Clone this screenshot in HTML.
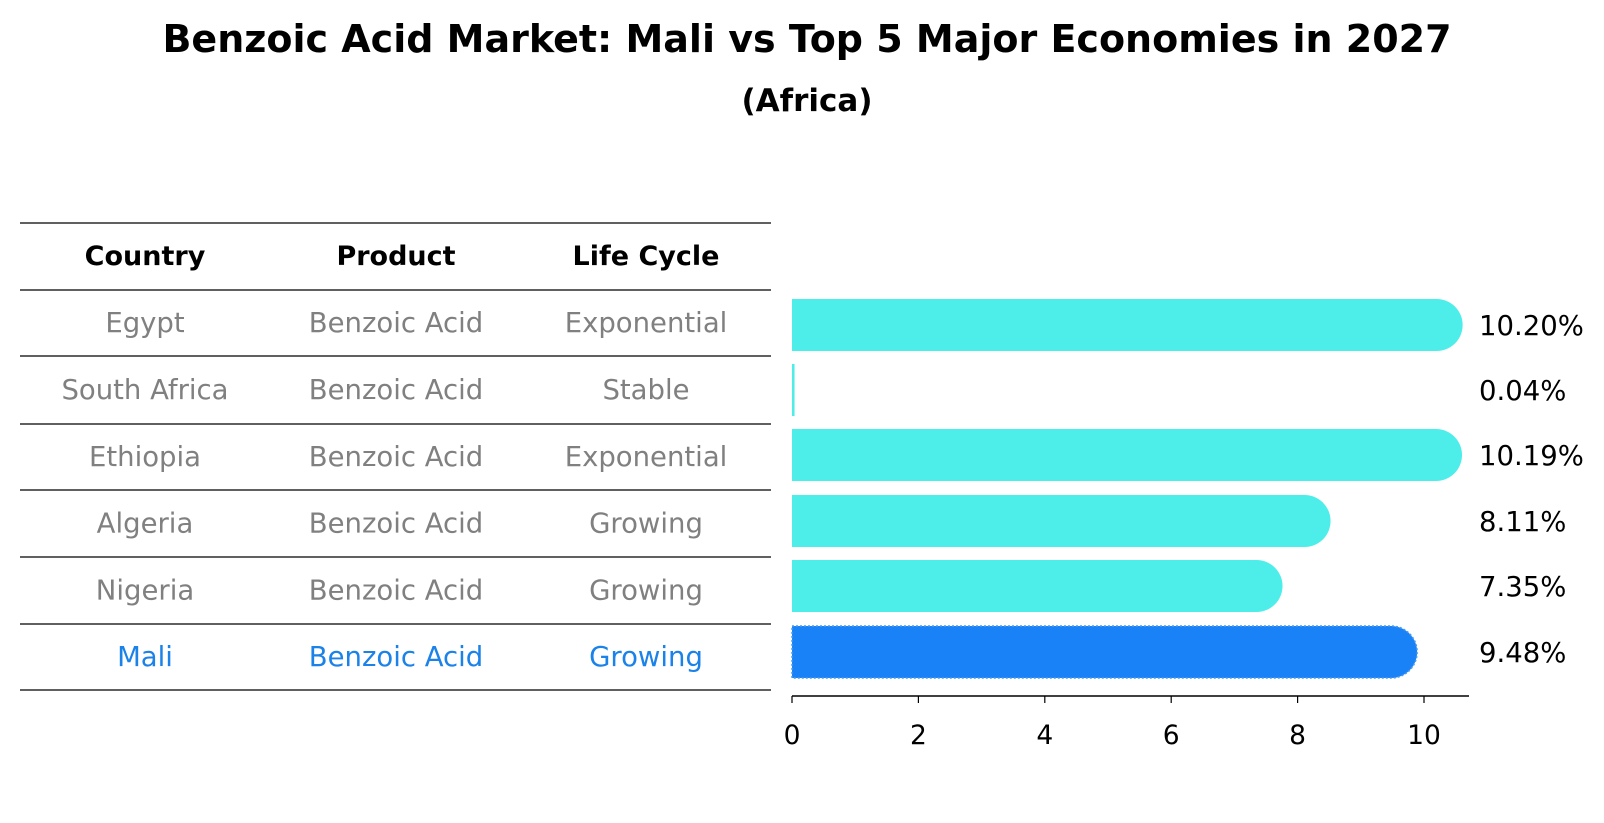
<!DOCTYPE html>
<html><head><meta charset="utf-8"><style>
body{margin:0;background:#fff;}
svg{display:block;font-family:"DejaVu Sans","Liberation Sans",sans-serif;}
</style></head><body>
<svg id="chart" width="1604" height="823" viewBox="0 0 1604 823">
<text x="807" y="52" text-anchor="middle" font-size="38" font-weight="bold">Benzoic Acid Market: Mali vs Top 5 Major Economies in 2027</text>
<text x="807" y="111" text-anchor="middle" font-size="31" font-weight="bold">(Africa)</text>
<g id="table"></g>
<g id="bars"></g>
</svg>
<script>
const countries=["Egypt","South Africa","Ethiopia","Algeria","Nigeria","Mali"];
const products=["Benzoic Acid","Benzoic Acid","Benzoic Acid","Benzoic Acid","Benzoic Acid","Benzoic Acid"];
const lifeCycles=["Exponential","Stable","Exponential","Growing","Growing","Growing"];
const values=[10.20,0.04,10.19,8.11,7.35,9.48];
const valueLabels=["10.20%","0.04%","10.19%","8.11%","7.35%","9.48%"];
const ticks=[0,2,4,6,8,10];

const NS="http://www.w3.org/2000/svg";
function mk(tag,attrs,parent){const e=document.createElementNS(NS,tag);for(const k in attrs)e.setAttribute(k,attrs[k]);parent.appendChild(e);return e;}
const tbl=document.getElementById('table');
const lines=[223,290,356,424,490,557,624,690];
const colX=[145,396,646];
lines.forEach((y,i)=>{
 const l=mk('line',{x1:20,x2:771,y1:y,y2:y,stroke:'#000','stroke-width':1.2},tbl);
 
 
});
["Country","Product","Life Cycle"].forEach((h,i)=>{
 const t=mk('text',{x:colX[i],y:265,'text-anchor':'middle','font-size':27,'font-weight':'bold'},tbl);
 t.textContent=h;
 
 
});
const rowMid=i=>(lines[i+1]+lines[i+2])/2;
countries.forEach((c,i)=>{
 const col=i===countries.length-1?'#1a82e8':'#808080';
 [c,products[i],lifeCycles[i]].forEach((v,j)=>{
  const t=mk('text',{x:colX[j],y:rowMid(i)+9,'text-anchor':'middle','font-size':27.5,fill:col},tbl);
  t.textContent=v;
  
  
 });
});
const bars=document.getElementById('bars');
const x0=792,x10=1424;
const xs=v=>x0+(x10-x0)*v/10;
const centers=[325,390,455,521,586,652];
const bh=52,r=26;
values.forEach((v,i)=>{
 const cy=centers[i];
 const isMali=i===values.length-1;
 const fill=isMali?'#1a82f7':'#4deeea';
 const w=xs(v)-x0;
 let d;
 if(w<r){d=`M${x0},${cy-bh/2}h${Math.max(w,1.5)}v${bh}h${-Math.max(w,1.5)}z`;}
 else d=`M${x0},${cy-bh/2}H${xs(v)}A${r},${r} 0 0 1 ${xs(v)},${cy+bh/2}H${x0}Z`;
 const p=mk('path',{d:d,fill:fill},bars);
 if(isMali){p.setAttribute('stroke','#4a9cf0');p.setAttribute('stroke-dasharray','2 2');p.setAttribute('stroke-width','1.5');}
 
 
 const t=mk('text',{x:1479,y:cy+10,'font-size':27.5},bars);
 t.textContent=valueLabels[i];
 
 
});
const ax=mk('line',{x1:x0,x2:1469,y1:696,y2:696,stroke:'#000','stroke-width':1.5},bars);


ticks.forEach(tv=>{
 const tk=mk('line',{x1:xs(tv),x2:xs(tv),y1:696,y2:703,stroke:'#000','stroke-width':1.2},bars);
 
 
 const t=mk('text',{x:xs(tv),y:744,'text-anchor':'middle','font-size':26.5},bars);
 t.textContent=tv;
 
 
});
</script>
</body></html>
